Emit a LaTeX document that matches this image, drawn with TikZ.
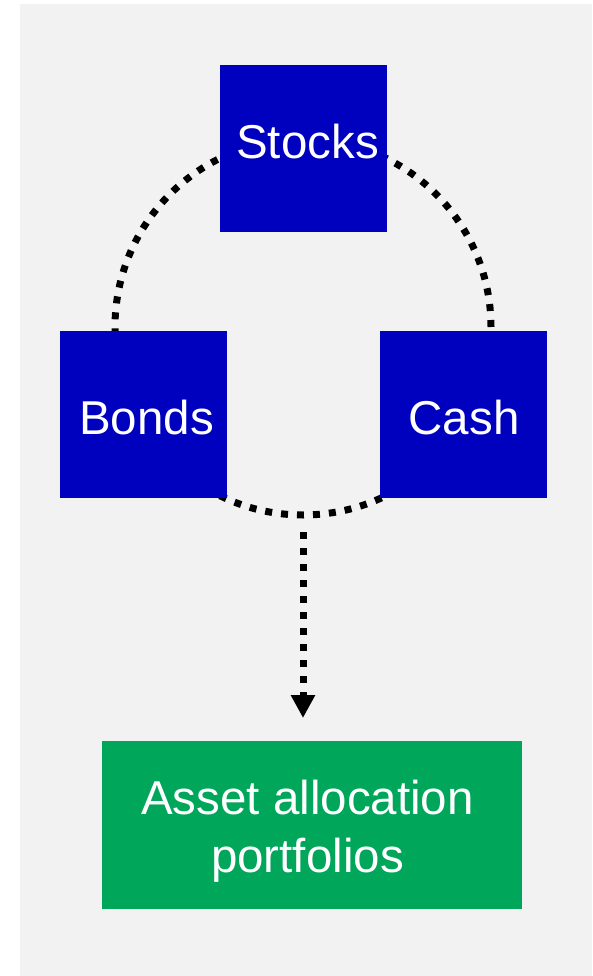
\documentclass[tikz,border=0pt]{standalone}
\usepackage{fontspec}
\setmainfont{Liberation Sans}
\usetikzlibrary{arrows.meta}
\definecolor{bgc}{HTML}{F2F2F2}
\definecolor{boxblue}{HTML}{0000BF}
\definecolor{boxgreen}{HTML}{00A65A}
\tikzset{
  bluebox/.style={fill=boxblue, draw=none, minimum width=167pt, minimum height=167pt, inner sep=0pt},
  greenbox/.style={fill=boxgreen, draw=none, minimum width=420pt, minimum height=168pt, inner sep=0pt},
  lbl/.style={text=white, font=\fontsize{47.5}{58}\selectfont, inner sep=0pt, anchor=base},
  dots/.style={line width=7pt, dash pattern=on 7pt off 9pt, black}
}
\begin{document}
\begin{tikzpicture}[x=1pt,y=-1pt]
\useasboundingbox (0,0) rectangle (592,976);
\fill[white] (0,0) rectangle (592,976);
\fill[bgc] (20,4) rectangle (592,976);
\coordinate (ctr) at (303,327);
\draw[dots] (ctr) circle[radius=188pt];
\node[bluebox] (stocks) at (303.5,149) {};
\node[bluebox] (bonds) at (143.5,414.5) {};
\node[bluebox] (cash) at (463.5,414.5) {};
\node[greenbox] (alloc) at (312,825) {};
\node[lbl] (tstocks) at (307.5,159) {Stocks};
\node[lbl] (tbonds) at (146.5,434) {Bonds};
\node[lbl] (tcash) at (464,434) {Cash};
\node[lbl, align=center] (talloc) at (307.5,872) {Asset allocation\\portfolios};
\coordinate (astart) at (303,532);
\coordinate (aend) at (303,718);
\draw[dots, -{Triangle[width=23pt,length=23pt]}] (astart) -- (aend);
\end{tikzpicture}
\end{document}
